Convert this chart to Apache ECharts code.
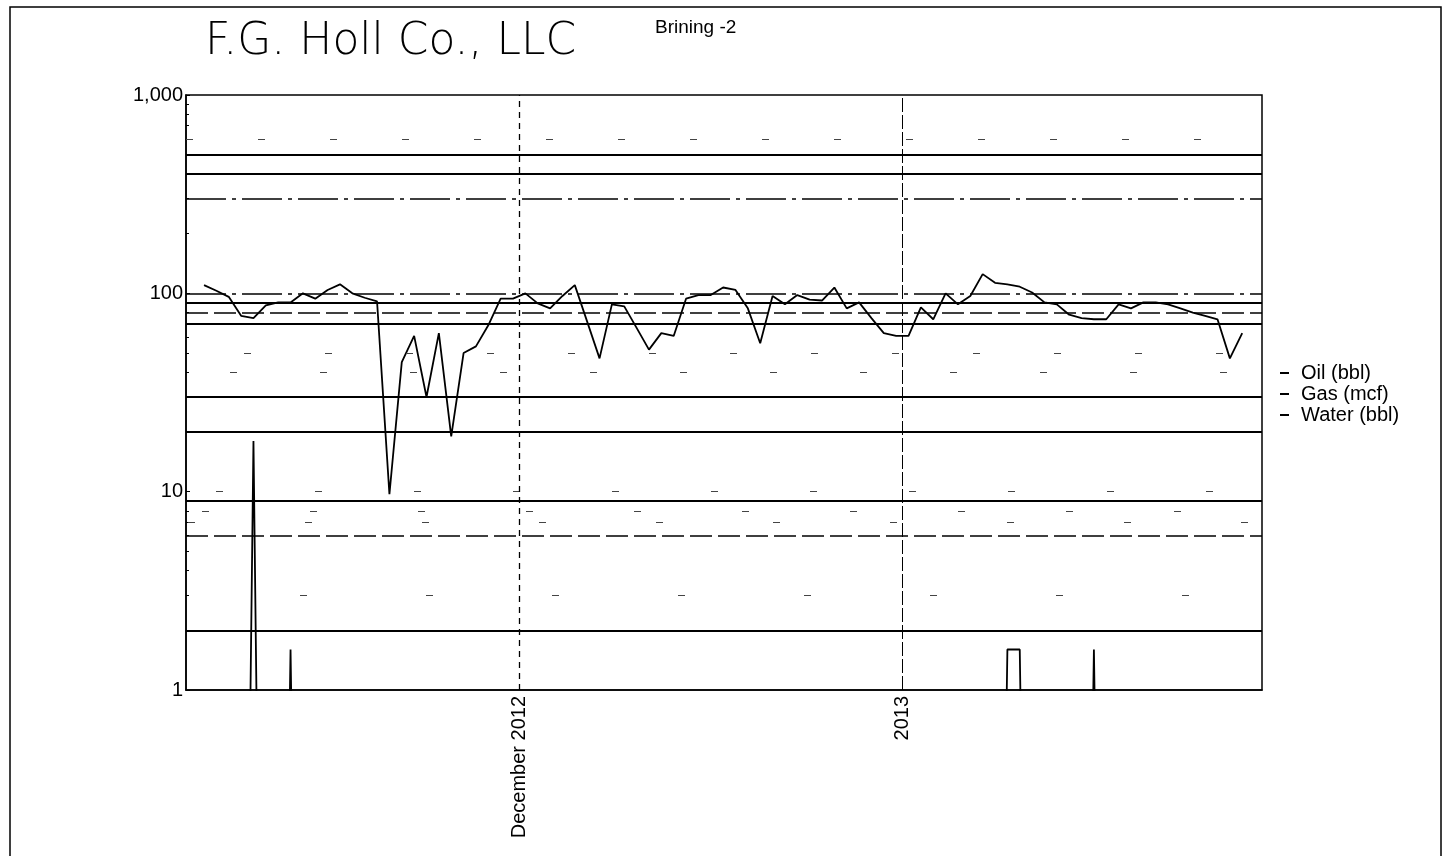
<!DOCTYPE html>
<html><head><meta charset="utf-8">
<script src="https://cdn.jsdelivr.net/npm/echarts@6/dist/echarts.min.js"></script>
<style>html,body{margin:0;padding:0;background:#fff}#c{width:1451px;height:856px}</style>
</head><body><div id="c"></div>
<script>
// ---- data (daily, first point 2012-11-05 12:00) ----
const Z = 0.0001; // zero production (drawn below the log axis)
const oil = [110,103,96,77,75,87,90,90,100,94,
             104,111,100,95,91,9.7,45,61,30,63,
             19,50,54,69,94,94,100,89,84,97,
             110,72,47,88,86,67,52,63,61,94,
             98,98,107,104,84,56,97,88,98,93,
             92,107,84,90,75,63,61,61,85,74,
             100,88,97,125,113,111,108,101,90,88,
             78,75,74,74,88,84,90,90,88,84,
             80,77,74,47,63];
const gas = [Z,Z,Z,Z,Z,Z,Z,Z,Z,Z, Z,Z,Z,Z,Z,Z,Z,Z,Z,Z, Z,Z,Z,Z,Z,Z,Z,Z,Z,Z,
             Z,Z,Z,Z,Z,Z,Z,Z,Z,Z, Z,Z,Z,Z,Z,Z,Z,Z,Z,Z, Z,Z,Z,Z,Z,Z,Z,Z,Z,Z,
             Z,Z,Z,Z,Z,Z,Z,Z,Z,Z, Z,Z,Z,Z,Z,Z,Z,Z,Z,Z, Z,Z,Z,Z,Z];
const water = [Z,Z,Z,Z,18,Z,Z,1.6,Z,Z, Z,Z,Z,Z,Z,Z,Z,Z,Z,Z, Z,Z,Z,Z,Z,Z,Z,Z,Z,Z,
               Z,Z,Z,Z,Z,Z,Z,Z,Z,Z, Z,Z,Z,Z,Z,Z,Z,Z,Z,Z, Z,Z,Z,Z,Z,Z,Z,Z,Z,Z,
               Z,Z,Z,Z,Z,1.6,1.6,Z,Z,Z, Z,Z,1.6,Z,Z,Z,Z,Z,Z,Z, Z,Z,Z,Z,Z];
const seriesNames = ['Oil (bbl)', 'Gas (mcf)', 'Water (bbl)'];
const xTickLabels = ['December 2012', '2013'];
const xTickDates = [new Date(2012, 11, 1).getTime(), new Date(2013, 0, 1).getTime()];
const yTickLabels = {1: '1', 10: '10', 100: '100', 1000: '1,000'};
const titleText = 'F.G. Holl Co., LLC';
const subTitleText = 'Brining -2';
// horizontal rules visible across the scanned plot
const solidLevels = [500, 400, 90, 70, 30, 20, 9, 2];
const dashDotLevels = [300, 100];
const dashedLevels = [80, 6];
const faintLevels = [600, 50, 40, 10, 8, 7, 3];

const dates = oil.map((_, i) => new Date(2012, 10, 5 + i, 12).getTime());
const pair = arr => arr.map((v, i) => [dates[i], v]);

const hLines = [];
solidLevels.forEach(v => hLines.push({yAxis: v, lineStyle: {type: 'solid', width: 1.8, color: '#000'}}));
dashDotLevels.forEach(v => hLines.push({yAxis: v, lineStyle: {type: [40, 6, 4, 6], width: 1.6, color: '#000'}}));
dashedLevels.forEach(v => hLines.push({yAxis: v, lineStyle: {type: [22, 6], width: 1.6, color: '#000'}}));
faintLevels.forEach((v, k) => hLines.push({yAxis: v, lineStyle: {type: [7, 65 + k * 9], dashOffset: k * 23, width: 1, color: '#444'}}));
hLines.push({xAxis: xTickDates[0], lineStyle: {type: [6, 5], width: 1.3, color: '#000'}});
hLines.push({xAxis: xTickDates[1], lineStyle: {type: [14, 3], width: 1, color: '#000'}});

const chart = echarts.init(document.getElementById('c'), null, {renderer: 'canvas'});
const FONT = 'Liberation Sans, Arial, sans-serif';
chart.setOption({
  animation: false,
  backgroundColor: '#fff',
  color: ['#000', '#000', '#000'],
  textStyle: {fontFamily: FONT, color: '#000'},
  grid: {left: 186, right: 189, top: 95, bottom: 166, show: true, borderColor: '#000', borderWidth: 1.5},
  graphic: [
    {type: 'rect', silent: true, shape: {x: 10, y: 7, width: 1431, height: 900},
     style: {fill: 'none', stroke: '#000', lineWidth: 1.5}},
    {type: 'text', left: 205, top: 21, silent: true,
     style: {text: titleText, font: '200 44px "DejaVu Sans", sans-serif', fill: '#000'}},
    {type: 'text', left: 655, top: 18, silent: true,
     style: {text: subTitleText, font: '19px ' + FONT, fill: '#000'}}
  ],
  legend: {
    orient: 'vertical', left: 1275, top: 358, itemGap: 1,
    icon: 'rect', itemWidth: 9, itemHeight: 2,
    textStyle: {fontSize: 20, color: '#000', fontFamily: FONT, padding: [0, 0, 0, 7]},
    data: seriesNames
  },
  xAxis: {
    type: 'value',
    min: new Date(2012, 10, 4, 1).getTime(),
    max: new Date(2013, 0, 30, 2, 24).getTime(),
    axisLine: {lineStyle: {color: '#000', width: 1.5}},
    axisTick: {show: false},
    splitLine: {show: false},
    axisLabel: {
      customValues: xTickDates,
      rotate: 90, fontSize: 20, color: '#000', fontFamily: FONT, margin: 6,
      formatter: v => { const i = xTickDates.indexOf(v); return i >= 0 ? xTickLabels[i] : ''; }
    }
  },
  yAxis: {
    type: 'log', logBase: 10, min: 1, max: 1000,
    axisLine: {show: true, lineStyle: {color: '#000', width: 1.5}},
    axisTick: {show: true, inside: true, length: 4, lineStyle: {color: '#000'}},
    minorTick: {show: true, splitNumber: 9, length: 3, lineStyle: {color: '#000'}},
    splitLine: {show: false},
    minorSplitLine: {show: false},
    axisLabel: {fontSize: 20, color: '#000', fontFamily: FONT, margin: 3,
      formatter: v => yTickLabels[Math.round(v)] || ''}
  },
  series: [
    {name: seriesNames[0], type: 'line', data: pair(oil), symbol: 'none',
     lineStyle: {color: '#000', width: 1.8}, itemStyle: {color: '#000'}},
    {name: seriesNames[1], type: 'line', data: pair(gas), symbol: 'none',
     lineStyle: {color: '#000', width: 1.6}, itemStyle: {color: '#000'}},
    {name: seriesNames[2], type: 'line', data: pair(water), symbol: 'none',
     lineStyle: {color: '#000', width: 1.8}, itemStyle: {color: '#000'}},
    {name: 'rules', type: 'line', data: [], silent: true,
     markLine: {silent: true, symbol: 'none', label: {show: false}, data: hLines}}
  ]
});
</script></body></html>
